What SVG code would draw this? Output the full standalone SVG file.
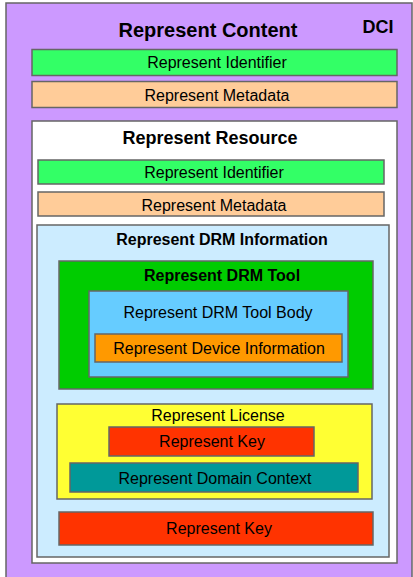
<svg xmlns="http://www.w3.org/2000/svg" width="413" height="577" viewBox="0 0 413 577">
  <style>
    .box { stroke: #666666; stroke-width: 1.5; }
    text { font-family: "Liberation Sans", Arial, sans-serif; fill: #000000; text-anchor: middle; }
    .t { font-size: 16px; }
    .b { font-weight: bold; }
  </style>
  <rect width="413" height="577" fill="#ffffff"/>

  <g id="content">
    <rect class="box" x="6" y="3" width="406" height="580" fill="#CC99FF"/>
    <text class="b" x="208" y="37" font-size="20">Represent Content</text>
    <text class="b" x="378" y="33" font-size="18">DCI</text>
  </g>
  <g id="content-identifier">
    <rect class="box" x="32" y="49.5" width="365" height="26" fill="#33FF66"/>
    <text class="t" x="217" y="68">Represent Identifier</text>
  </g>
  <g id="content-metadata">
    <rect class="box" x="32" y="81.5" width="365" height="26" fill="#FFCC99"/>
    <text class="t" x="217" y="100.5">Represent Metadata</text>
  </g>

  <g id="resource">
    <rect class="box" x="32" y="121" width="365" height="442" fill="#ffffff"/>
    <text class="b" x="210" y="144" font-size="18">Represent Resource</text>
  </g>
  <g id="resource-identifier">
    <rect class="box" x="38" y="160" width="346" height="24" fill="#33FF66"/>
    <text class="t" x="214" y="178">Represent Identifier</text>
  </g>
  <g id="resource-metadata">
    <rect class="box" x="38" y="192" width="346" height="24" fill="#FFCC99"/>
    <text class="t" x="214" y="211">Represent Metadata</text>
  </g>

  <g id="drm-information">
    <rect class="box" x="37" y="225" width="352" height="332" fill="#CCECFF"/>
    <text class="t b" x="222" y="245">Represent DRM Information</text>
  </g>

  <g id="drm-tool">
    <rect class="box" x="59" y="261" width="314" height="128" fill="#00CC00"/>
    <text class="t b" x="222" y="281">Represent DRM Tool</text>
  </g>
  <g id="drm-tool-body">
    <rect class="box" x="89" y="291" width="259" height="86" fill="#66CCFF"/>
    <text class="t" x="218" y="318">Represent DRM Tool Body</text>
  </g>
  <g id="device-information">
    <rect class="box" x="95" y="334" width="247" height="28" fill="#FF9900"/>
    <text class="t" x="219" y="354">Represent Device Information</text>
  </g>

  <g id="license">
    <rect class="box" x="57" y="404" width="315" height="95" fill="#FFFF33"/>
    <text class="t" x="218" y="421">Represent License</text>
  </g>
  <g id="license-key">
    <rect class="box" x="109" y="427" width="205" height="29" fill="#FF3300"/>
    <text class="t" x="212" y="447">Represent Key</text>
  </g>
  <g id="domain-context">
    <rect class="box" x="70" y="463" width="288" height="29" fill="#009999"/>
    <text class="t" x="215" y="484">Represent Domain Context</text>
  </g>

  <g id="key">
    <rect class="box" x="59" y="512" width="314" height="33" fill="#FF3300"/>
    <text class="t" x="219" y="534">Represent Key</text>
  </g>

  <g id="connectors"></g>
</svg>
